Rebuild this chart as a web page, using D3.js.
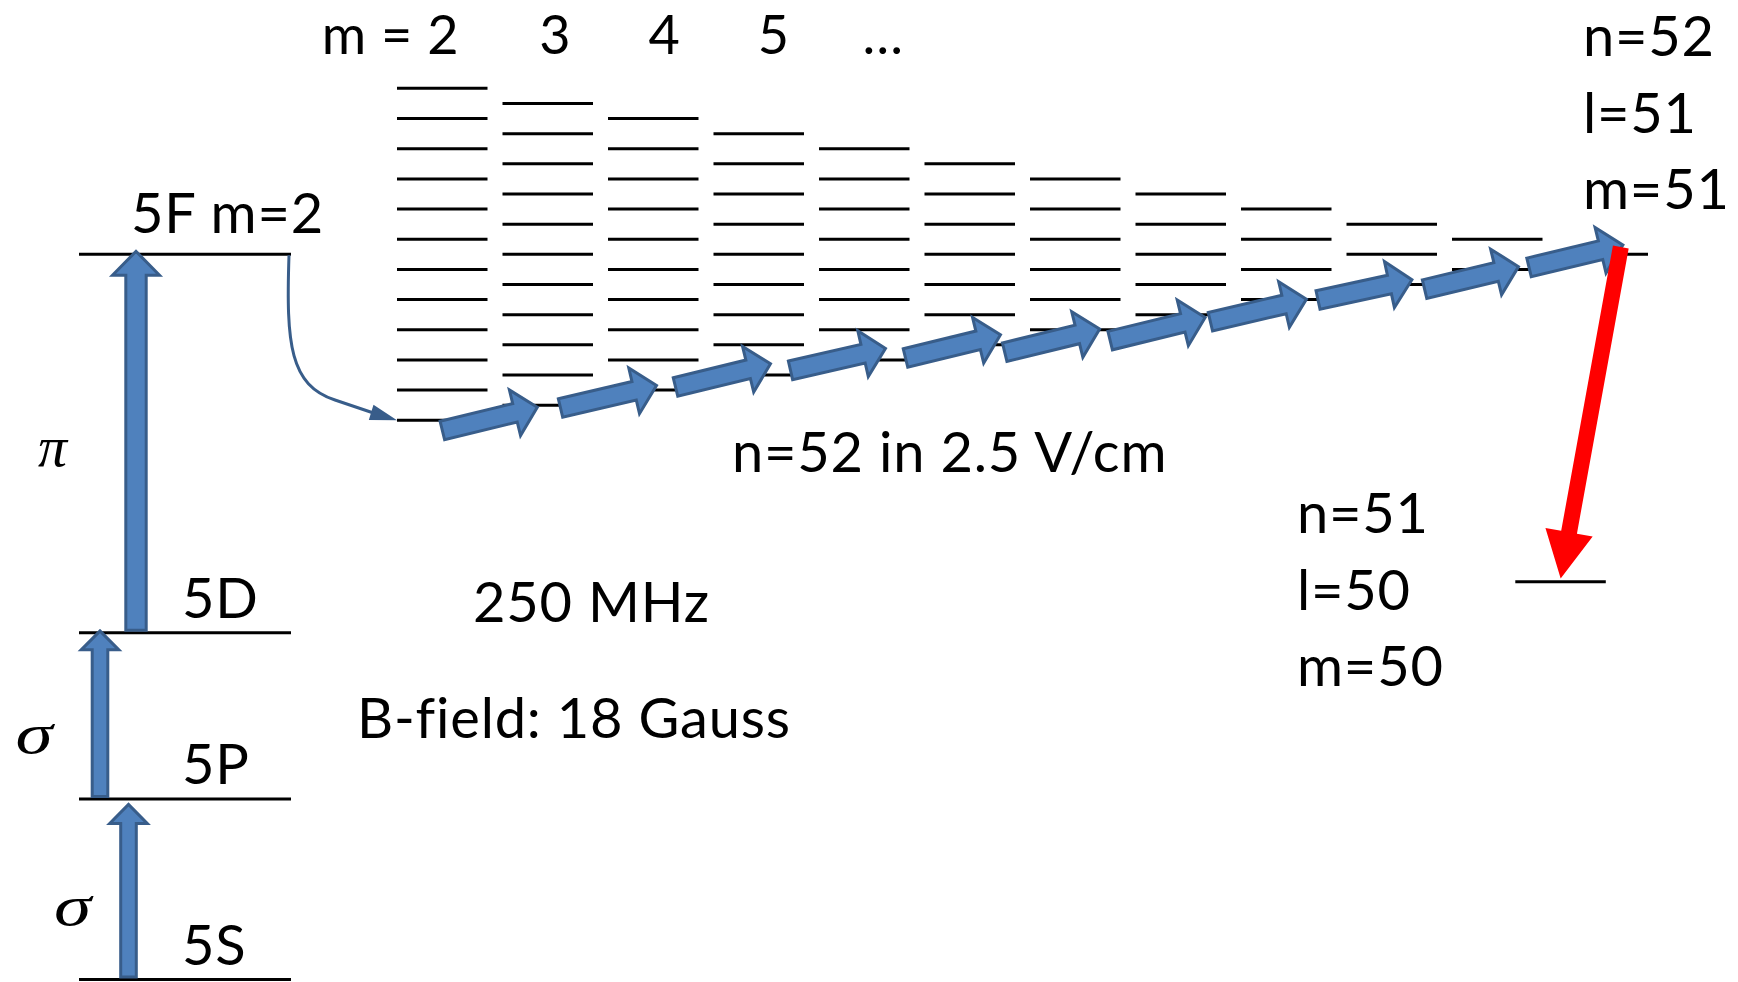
<!DOCTYPE html>
<html>
<head>
<meta charset="utf-8">
<script src="https://cdn.jsdelivr.net/npm/d3@7"></script>
<style>
  html, body { margin: 0; padding: 0; background: #fff; }
  svg { display: block; }
  .lbl { font-family: Lato, "Noto Sans", sans-serif; font-size: 56px; letter-spacing: 0.8px; fill: #000; }
  .head { font-size: 54px; letter-spacing: 0.5px; }
  .greek { font-family: "Liberation Serif", "DejaVu Serif", serif; font-style: italic; font-size: 58px; fill: #000; }
</style>
</head>
<body>
<div id="chart"></div>
<script>
// ---- data ----
// m labels over the Stark columns
const mLabels = ["m = 2", "3", "4", "5", "…"];
// number of Stark levels per m column (n=52 in 2.5 V/cm)
const starkCounts = [12, 11, 10, 9, 8, 7, 6, 5, 4, 3, 2, 1];
const starkCenter = 100;     // energy of manifold centre (arb. units)
const starkSpacing = 4.16;   // level spacing (arb. units)

// low lying levels (arb. energy units)
const lowNames = ["5S", "5P", "5D", "5F"];
const lowEnergies = [0, 24.9, 47.8, 100];

// optical steps: from, to, polarisation
const laserFrom = ["5S", "5P", "5D"];
const laserTo = ["5P", "5D", "5F"];
const laserPol = ["σ", "σ", "π"];

// microwave steps, [column units, energy] for tail and tip
const mwTail = [[0.43, 75.7], [1.55, 78.8], [2.64, 81.7], [3.73, 84.0], [4.82, 85.7], [5.76, 86.5],
                [6.76, 88.1], [7.71, 90.7], [8.73, 93.7], [9.74, 95.2], [10.73, 98.2]];
const mwTip = [[1.33, 78.9], [2.46, 81.9], [3.54, 84.9], [4.63, 87.0], [5.72, 88.9], [6.66, 89.7],
               [7.66, 91.3], [8.62, 93.8], [9.62, 96.5], [10.63, 98.3], [11.62, 101.3]];

// final n=51 level and the drop to it
const finalLevel = { col: 10.6, e: 54.85 };
const dropTail = [11.6, 101.0];
const dropTip = [11.03, 55.3];

const topState = ["n=52", "l=51", "m=51"];
const lowState = ["n=51", "l=50", "m=50"];

// ---- layout ----
const width = 1738, height = 982;

const svg = d3.select("#chart").append("svg")
    .attr("width", width)
    .attr("height", height);

const y = d3.scaleLinear().domain([0, 100]).range([979.5, 254.3]);
const col = d3.scaleLinear().domain([0, 11]).range([397, 1557.5]);
const headX = d3.scaleLinear().domain([0, 4]).range([446, 883]);
const levelW = 90.5;

const blueFill = "#4F81BD", blueLine = "#385D8A";

function blockArrow(x0, y0, x1, y1, sw, hw, hl) {
    const dx = x1 - x0, dy = y1 - y0, L = Math.hypot(dx, dy);
    const ux = dx / L, uy = dy / L, px = -uy, py = ux;
    const b = L - hl;
    const pts = [[0, -sw], [b, -sw], [b, -hw], [L, 0], [b, hw], [b, sw], [0, sw]];
    return pts.map(([a, c]) => [x0 + ux * a + px * c, y0 + uy * a + py * c]);
}
const closed = d3.line().curve(d3.curveLinearClosed);

// Stark manifold
starkCounts.forEach((n, k) => {
    const g = svg.append("g");
    g.selectAll("line")
        .data(d3.range(n))
        .enter().append("line")
        .attr("x1", col(k))
        .attr("x2", col(k) + levelW)
        .attr("y1", j => y(starkCenter + starkSpacing * ((n - 1) / 2 - j)))
        .attr("y2", j => y(starkCenter + starkSpacing * ((n - 1) / 2 - j)))
        .attr("stroke", "#000")
        .attr("stroke-width", 3);
});

// low levels
const lowX0 = 79, lowX1 = 291;
svg.selectAll("line.low")
    .data(lowNames)
    .enter().append("line")
    .attr("class", "low")
    .attr("x1", lowX0).attr("x2", lowX1)
    .attr("y1", (d, i) => y(lowEnergies[i]))
    .attr("y2", (d, i) => y(lowEnergies[i]))
    .attr("stroke", "#000")
    .attr("stroke-width", 3);

svg.selectAll("text.lowname")
    .data(lowNames.slice(0, 3))
    .enter().append("text")
    .attr("class", "lbl lowname")
    .attr("x", 182)
    .attr("y", (d, i) => y(lowEnergies[i]) - 15)
    .text(d => d);

svg.append("text").attr("class", "lbl")
    .attr("x", 131).attr("y", 233)
    .text("5F m=2");

// final level
svg.append("line")
    .attr("x1", col(finalLevel.col)).attr("x2", col(finalLevel.col) + levelW)
    .attr("y1", y(finalLevel.e)).attr("y2", y(finalLevel.e))
    .attr("stroke", "#000").attr("stroke-width", 3);

// optical arrows
const eOf = name => lowEnergies[lowNames.indexOf(name)];
const laserX = [128.5, 100, 136];
const laserSize = [[7.8, 18.8, 19], [7.8, 18.8, 19], [10.2, 23.5, 24]];
const polPos = [[72.5, 925], [34, 753], [52.5, 466]];
laserFrom.forEach((f, i) => {
    const [sw, hw, hl] = laserSize[i];
    const y0 = y(eOf(f)) - 2.5, y1 = y(eOf(laserTo[i])) + (i === 0 ? 5.5 : i === 1 ? -2 : -3);
    svg.append("path")
        .attr("d", closed(blockArrow(laserX[i], y0, laserX[i], y1, sw, hw, hl)))
        .attr("fill", blueFill)
        .attr("stroke", blueLine)
        .attr("stroke-width", 3);
    // sigma glyphs in the original are broader than the serif italic here
    const sx = laserPol[i] === "σ" ? 1.3 : 1;
    svg.append("text").attr("class", "greek")
        .attr("transform", `translate(${polPos[i][0]},${polPos[i][1]}) scale(${sx},1)`)
        .attr("text-anchor", "middle")
        .text(laserPol[i]);
});

// 5F -> Stark curved transfer
const curve = d3.path();
curve.moveTo(289, y(100) + 1);
curve.bezierCurveTo(286, 345, 290, 385, 335, 400);
curve.lineTo(375, 413.5);
svg.append("path")
    .attr("d", curve.toString())
    .attr("fill", "none")
    .attr("stroke", blueLine)
    .attr("stroke-width", 3);
svg.append("path")
    .attr("d", closed(blockArrow(370, 412, col(0), y(starkCenter - starkSpacing * 5.5), 0, 8, 27)))
    .attr("fill", blueLine);

// microwave arrows
svg.selectAll("path.mw")
    .data(mwTail)
    .enter().append("path")
    .attr("class", "mw")
    .attr("d", (t, i) => closed(blockArrow(col(t[0]), y(t[1]), col(mwTip[i][0]), y(mwTip[i][1]), 9.5, 23.5, 23)))
    .attr("fill", blueFill)
    .attr("stroke", blueLine)
    .attr("stroke-width", 3)
    .attr("stroke-miterlimit", 10);

// red drop arrow
svg.append("path")
    .attr("d", closed(blockArrow(col(dropTail[0]), y(dropTail[1]), col(dropTip[0]), y(dropTip[1]), 8, 24, 47)))
    .attr("fill", "#FF0000");

// header labels
svg.selectAll("text.mlab")
    .data(mLabels)
    .enter().append("text")
    .attr("class", "lbl head mlab")
    .attr("x", (d, i) => i === 0 ? headX(0) + 13 : headX(i))
    .attr("y", 54)
    .attr("text-anchor", (d, i) => i === 0 ? "end" : "middle")
    .text(d => d);

// state labels
svg.selectAll("text.top")
    .data(topState)
    .enter().append("text")
    .attr("class", "lbl top")
    .attr("x", 1583)
    .attr("y", (d, i) => 56 + i * 76.5)
    .text(d => d);

svg.selectAll("text.lowst")
    .data(lowState)
    .enter().append("text")
    .attr("class", "lbl lowst")
    .attr("x", 1297)
    .attr("y", (d, i) => 533 + i * 76.7)
    .text(d => d);

svg.append("text").attr("class", "lbl").attr("x", 732).attr("y", 471.5).text("n=52 in 2.5 V/cm");
svg.append("text").attr("class", "lbl").attr("x", 473).attr("y", 622).text("250 MHz");
svg.append("text").attr("class", "lbl").attr("x", 357).attr("y", 738).text("B-field: 18 Gauss");
</script>
</body>
</html>
